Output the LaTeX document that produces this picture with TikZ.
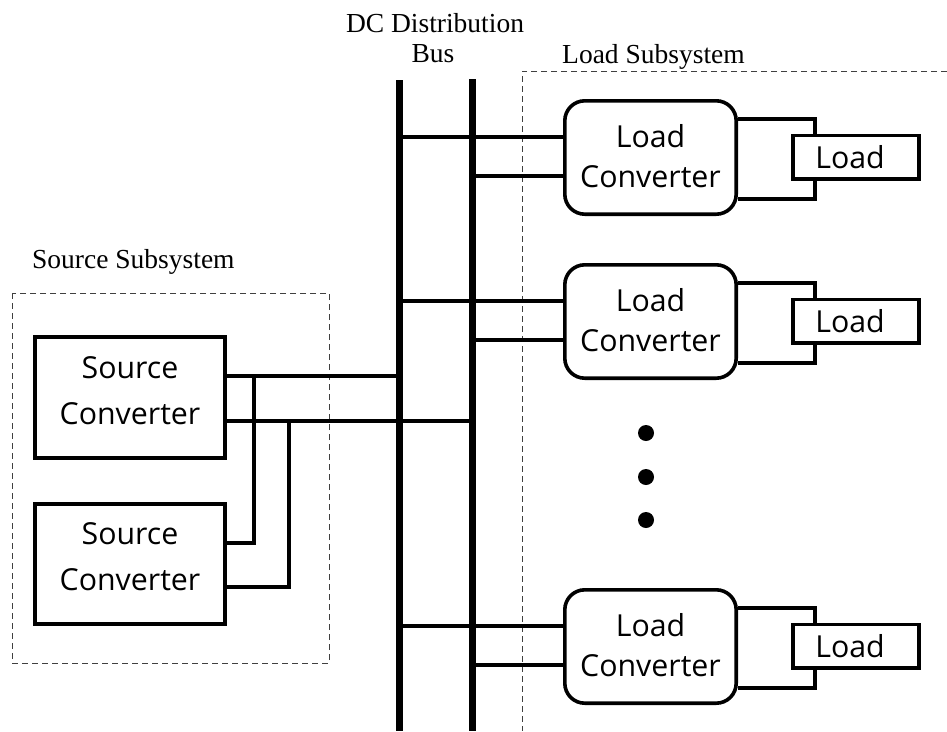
\documentclass[tikz,border=0pt]{standalone}
\usepackage{fontspec}
\setmainfont{Liberation Serif}
\newfontfamily\boxfont{Open Sans}
\begin{document}
\begin{tikzpicture}[x=1pt,y=-1pt,
  wire/.style={line width=3.2pt},
  busline/.style={line width=7pt},
  subsys/.style={draw=black!75, line width=1pt, dash pattern=on 6pt off 4pt},
  srcbox/.style={draw, line width=4pt, minimum width=190pt, minimum height=120.5pt, inner sep=0pt, align=center,
     text height=53pt, text depth=0pt, font=\boxfont\fontsize{30.3}{46}\selectfont},
  lconv/.style={draw, line width=3.6pt, rounded corners=20pt, minimum width=171.4pt, minimum height=113.4pt, inner sep=0pt, align=center,
     text height=59pt, text depth=0pt, font=\boxfont\fontsize{30.3}{40}\selectfont},
  loadbox/.style={draw, line width=3.6pt, minimum width=126.4pt, minimum height=43.4pt, inner sep=0pt,
     text height=23pt, text depth=0pt, font=\boxfont\fontsize{30.3}{36}\selectfont},
  lbl/.style={inner sep=0pt, font=\fontsize{27.5}{30}\selectfont},
  dot/.style={circle, fill, inner sep=0pt, minimum size=16pt}
]
\useasboundingbox (0,0) rectangle (947,731);

% subsystem frames
\draw[subsys] (12,293) rectangle (329,663);
\draw[subsys] (947,71) -- (522,71) -- (522,731);

% labels
\node[lbl, anchor=base west] (srclbl) at (32,268) {Source Subsystem};
\node[lbl, anchor=base] (busl1) at (435,32) {DC Distribution};
\node[lbl, anchor=base] (busl2) at (433,62) {Bus};
\node[lbl, anchor=base west] (loadlbl) at (562,63) {Load Subsystem};

% DC bus
\coordinate (bus1t) at (399,80);
\coordinate (bus1b) at (399,731);
\coordinate (bus2t) at (472,79);
\coordinate (bus2b) at (472,731);
\draw[busline] (bus1t) -- (bus1b);
\draw[busline] (bus2t) -- (bus2b);

% source converters
\node[srcbox] (sc1) at (130,397.5) {Source\\Converter};
\node[srcbox] (sc2) at (130,564) {Source\\Converter};
\coordinate (ja) at (254,376);
\coordinate (jb) at (289,421);
\coordinate (ka) at (254,543);
\coordinate (kb) at (289,587);
\coordinate (bs1) at (399,376);
\coordinate (bs2) at (472,421);
\draw[wire] (sc1.east |- ja) -- (bs1);
\draw[wire] (sc1.east |- jb) -- (bs2);
\draw[wire] (ja) -- (ka) -- (sc2.east |- ka);
\draw[wire] (jb) -- (kb) -- (sc2.east |- kb);

% load converters and loads
\foreach \i/\T in {1/99,2/263,3/588}{
  \node[lconv] (lc\i) at (650.5,\T+58.5) {Load\\Converter};
  \node[loadbox] (ld\i) at (856,\T+58) {Load\kern12pt};
  \coordinate (ba\i) at (399,\T+38);
  \coordinate (bb\i) at (472,\T+77);
  \coordinate (wt\i) at (815,\T+20);
  \coordinate (wb\i) at (815,\T+100);
  \draw[wire] (ba\i) -- (lc\i.west |- ba\i);
  \draw[wire] (bb\i) -- (lc\i.west |- bb\i);
  \draw[wire] (lc\i.east |- wt\i) -- (wt\i) -- (ld\i.north -| wt\i);
  \draw[wire] (lc\i.east |- wb\i) -- (wb\i) -- (ld\i.south -| wb\i);
}

% ellipsis dots
\node[dot] (d1) at (646,433) {};
\node[dot] (d2) at (646,477) {};
\node[dot] (d3) at (646,520) {};
\end{tikzpicture}
\end{document}
